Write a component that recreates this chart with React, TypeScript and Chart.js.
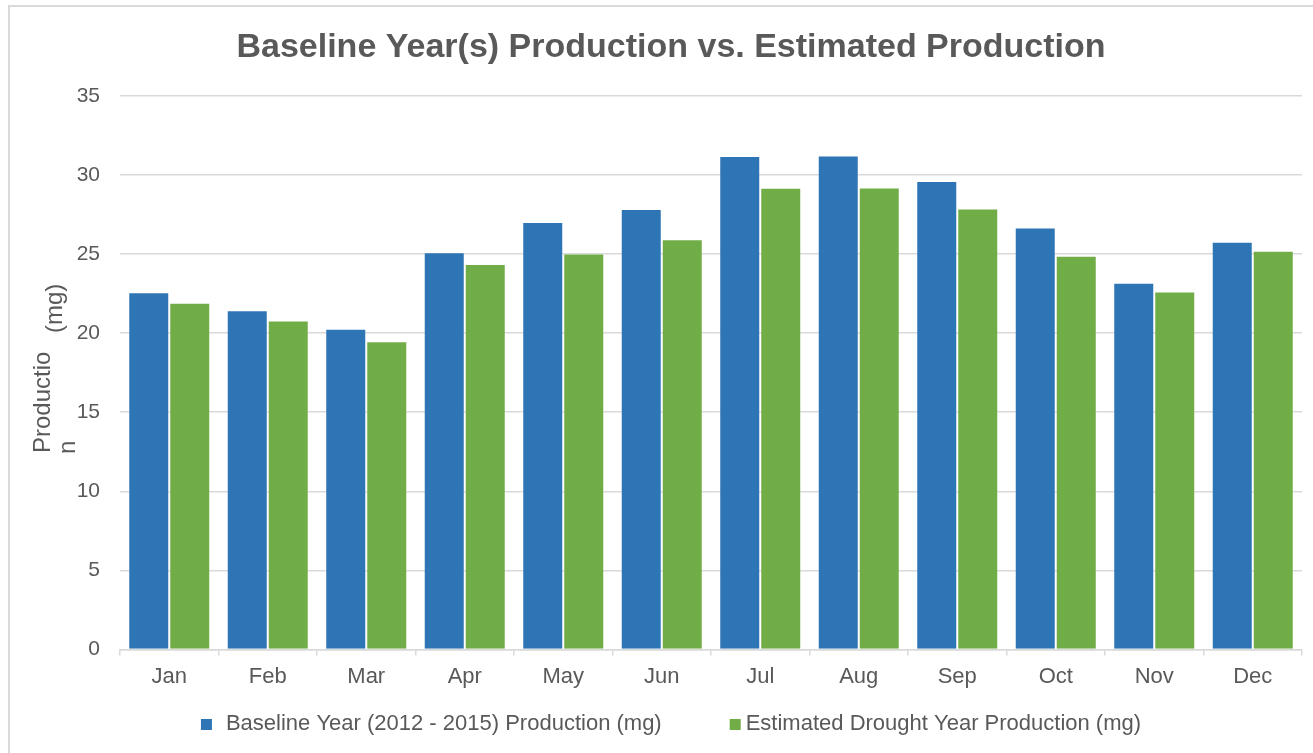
import { useEffect, useRef } from 'react';
import Chart from 'chart.js/auto';

// Monthly production, mg
const months = ['Jan', 'Feb', 'Mar', 'Apr', 'May', 'Jun', 'Jul', 'Aug', 'Sep', 'Oct', 'Nov', 'Dec'];
const baselineProduction = [22.59, 21.45, 20.28, 25.11, 27.03, 27.85, 31.2, 31.22, 29.62, 26.67, 23.18, 25.77];
const droughtProduction = [21.92, 20.8, 19.48, 24.36, 25.03, 25.93, 29.18, 29.2, 27.87, 24.89, 22.63, 25.2];

const yMin = 0;
const yMax = 35;
const yStep = 5;

const chartTitle = 'Baseline Year(s) Production vs. Estimated Production';
const baselineLabel = 'Baseline Year (2012 - 2015) Production (mg)';
const droughtLabel = 'Estimated Drought Year Production (mg)';
const yTitleParts = ['Productio', 'n', '(mg)'];

const FONT = '"Liberation Sans", Arial, Helvetica, sans-serif';
const TEXT = '#595959';
const GRID = '#d9d9d9';
const BLUE = '#2E75B6';
const GREEN = '#70AD47';

const CANVAS_W = 1322;
const CANVAS_H = 746;

// Rotated, wrapped axis title drawn to the left of the value axis
const yTitlePlugin = {
  id: 'yTitleWrapped',
  afterDraw(chart: any) {
    const { ctx } = chart;
    const draw = (text: string, x: number, y: number) => {
      ctx.save();
      ctx.translate(x, y);
      ctx.rotate(-Math.PI / 2);
      ctx.fillText(text, 0, 0);
      ctx.restore();
    };
    ctx.save();
    ctx.fillStyle = TEXT;
    ctx.font = `24px ${FONT}`;
    ctx.textAlign = 'left';
    ctx.textBaseline = 'alphabetic';
    draw(yTitleParts[0], 40, 446);
    draw(yTitleParts[1], 65, 447);
    draw(yTitleParts[2], 52, 326);
    ctx.restore();
  },
};

// Legend row under the axis: square swatch followed by the series name
const legendPlugin = {
  id: 'bottomLegend',
  afterDraw(chart: any) {
    const { ctx } = chart;
    const box = 11;
    const gaps = [14, 5];
    const itemSpacing = 68;
    const cy = 716.5;
    ctx.save();
    ctx.font = `22px ${FONT}`;
    ctx.textBaseline = 'middle';
    ctx.textAlign = 'left';
    const items = chart.data.datasets.map((ds: any, i: number) => ({
      text: ds.label as string,
      color: ds.backgroundColor as string,
      gap: gaps[i] ?? 8,
      w: ctx.measureText(ds.label).width,
    }));
    const total =
      items.reduce((s: number, it: any) => s + box + it.gap + it.w, 0) + itemSpacing * (items.length - 1);
    let x = chart.width / 2 - total / 2;
    items.forEach((it: any) => {
      ctx.fillStyle = it.color;
      ctx.fillRect(x, cy - box / 2 + 1, box, box);
      x += box + it.gap;
      ctx.fillStyle = TEXT;
      ctx.fillText(it.text, x, cy);
      x += it.w + itemSpacing;
    });
    ctx.restore();
  },
};

export default function App() {
  const canvasRef = useRef<HTMLCanvasElement | null>(null);

  useEffect(() => {
    const canvas = canvasRef.current;
    if (!canvas) return;
    const chart = new Chart(canvas, {
      type: 'bar',
      data: {
        labels: months,
        datasets: [
          {
            label: baselineLabel,
            data: baselineProduction,
            backgroundColor: BLUE,
            borderColor: 'rgba(255,255,255,0.25)',
            borderWidth: 1,
            categoryPercentage: 0.8325,
            barPercentage: 1,
          },
          {
            label: droughtLabel,
            data: droughtProduction,
            backgroundColor: GREEN,
            borderColor: 'rgba(255,255,255,0.25)',
            borderWidth: 1,
            categoryPercentage: 0.8325,
            barPercentage: 1,
          },
        ],
      },
      options: {
        responsive: false,
        animation: false,
        devicePixelRatio: 1,
        layout: { padding: { left: 30, right: 30, top: 0, bottom: 0 } },
        plugins: {
          legend: { display: false },
          tooltip: { enabled: false },
          title: {
            display: true,
            text: chartTitle,
            color: TEXT,
            font: { family: FONT, size: 34, weight: 'bold' },
            padding: { top: 20.6, bottom: 27.4 },
          },
        },
        scales: {
          x: {
            grid: {
              display: true,
              drawOnChartArea: false,
              drawTicks: true,
              tickLength: 6,
              offset: true,
              color: GRID,
              lineWidth: 1.5,
            },
            border: { display: true, color: GRID, width: 1.5 },
            ticks: { color: TEXT, font: { family: FONT, size: 22 }, padding: 8 },
            afterFit: (s: any) => {
              s.height = 103.5;
            },
          },
          y: {
            min: yMin,
            max: yMax,
            ticks: { stepSize: yStep, color: TEXT, font: { family: FONT, size: 21 }, padding: 20 },
            grid: { color: GRID, lineWidth: 1.5, drawTicks: false },
            border: { display: false },
            afterFit: (s: any) => {
              s.width = 80;
            },
          },
        },
      },
      plugins: [yTitlePlugin, legendPlugin],
    });
    return () => chart.destroy();
  }, []);

  return (
    <div
      style={{
        position: 'fixed',
        left: 0,
        top: 0,
        width: 1313,
        height: 753,
        overflow: 'hidden',
        background: '#ffffff',
      }}
    >
      <div
        style={{
          position: 'absolute',
          left: 8,
          top: 5,
          width: CANVAS_W + 20,
          height: CANVAS_H + 20,
          borderLeft: `2px solid ${GRID}`,
          borderTop: `2px solid ${GRID}`,
        }}
      >
        <canvas
          ref={canvasRef}
          width={CANVAS_W}
          height={CANVAS_H}
          style={{ display: 'block', width: CANVAS_W, height: CANVAS_H }}
        />
      </div>
    </div>
  );
}
